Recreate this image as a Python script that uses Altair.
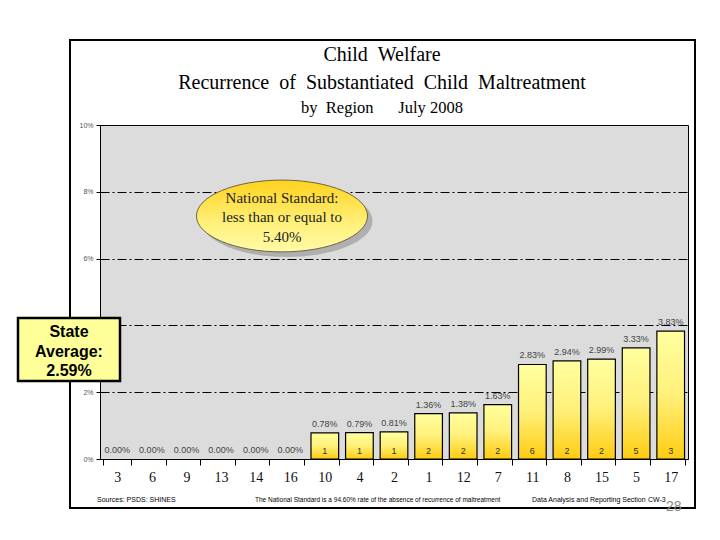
import altair as alt
import pandas as pd

regions = ["3", "6", "9", "13", "14", "16", "10", "4", "2", "1", "12", "7", "11", "8", "15", "5", "17"]
rates = [0.00, 0.00, 0.00, 0.00, 0.00, 0.00, 0.78, 0.79, 0.81, 1.36, 1.38, 1.63, 2.83, 2.94, 2.99, 3.33, 3.83]
counts = [0, 0, 0, 0, 0, 0, 1, 1, 1, 2, 2, 2, 6, 2, 2, 5, 3]
y_ticks = [0, 2, 4, 6, 8, 10]

NB = "\u00a0"
title_lines = ["Child" + NB * 2 + "Welfare",
               ("Recurrence" + NB * 2 + "of" + NB * 2 + "Substantiated" + NB * 2 + "Child"
                + NB * 2 + "Maltreatment"),
               "by" + NB * 2 + "Region" + NB * 6 + "July 2008"]
ellipse_lines = ["National Standard:", "less than or equal to", "5.40%"]
state_lines = ["State", "Average:", "2.59%"]
footer_source = "Sources: PSDS: SHINES"
footer_note = "The National Standard is a 94.60% rate of the absence of recurrence of maltreatment"
footer_section = "Data Analysis and Reporting Section"
footer_code = "CW-3"
page_number = "28"

W, H = 588, 334

df = pd.DataFrame({"region": regions, "rate": rates, "count": counts})
df["label"] = [f"{r:.2f}%" for r in rates]
one = pd.DataFrame({"k": [0]})

bar_grad = alt.Gradient(
    gradient="linear",
    stops=[alt.GradientStop(color="#FFFFA0", offset=0),
           alt.GradientStop(color="#FFF07A", offset=0.5),
           alt.GradientStop(color="#FFCC10", offset=1)],
    x1=0, x2=0, y1=0, y2=1)
ell_grad = alt.Gradient(
    gradient="linear",
    stops=[alt.GradientStop(color="#FFD21E", offset=0),
           alt.GradientStop(color="#FFF07A", offset=0.6),
           alt.GradientStop(color="#FFFAA8", offset=1)],
    x1=0, x2=0, y1=0, y2=1)

x_axis = alt.Axis(title=None, labelAngle=0, labelFont="Liberation Serif",
                  labelFontSize=14, labelColor="#111", tickBand="extent",
                  tickSize=6, tickColor="black", domainColor="black",
                  labelPadding=5, grid=False)
y_axis = alt.Axis(title=None, values=y_ticks,
                  labelExpr="datum.value == 4 ? '' : datum.value + '%'",
                  labelFontSize=7, labelColor="#555", labelFont="Liberation Sans",
                  tickSize=4, tickColor="black", domainColor="black", grid=True,
                  gridColor="black", gridDash=[9, 3, 2, 3], gridWidth=1, gridOpacity=1,
                  labelPadding=3)
x_main = alt.X("region:N", sort=regions,
               scale=alt.Scale(paddingInner=0.2, paddingOuter=0.1), axis=x_axis)
y_main = alt.Y("rate:Q", scale=alt.Scale(domain=[0, 10], nice=False), axis=y_axis)

base = alt.Chart(df)

bars = base.transform_filter("datum.rate > 0").mark_bar(
    fill=bar_grad, stroke="black", strokeWidth=1.2
).encode(x=x_main, y=y_main)

value_labels = base.mark_text(
    baseline="bottom", dy=-4, fontSize=9, color="#444", font="Liberation Sans"
).encode(x=x_main, y=y_main, text="label:N")

count_labels = base.transform_filter("datum.count > 0").mark_text(
    baseline="middle", fontSize=9, color="#333", font="Liberation Sans"
).encode(x=x_main, y=alt.value(H - 8), text="count:Q")


def txt(s, x, y, size, font="Liberation Sans", color="black", align="center",
        weight="normal", baseline="middle"):
    return alt.Chart(one).mark_text(
        fontSize=size, font=font, color=color, align=align, fontWeight=weight,
        baseline=baseline
    ).encode(x=alt.value(x), y=alt.value(y), text=alt.value(s))


frame = alt.Chart(one).mark_rect(
    fillOpacity=0, stroke="black", strokeWidth=2
).encode(x=alt.value(-30), x2=alt.value(595), y=alt.value(-85), y2=alt.value(383))

ell_path = "M-1,0 A1,0.42 0 1,1 1,0 A1,0.42 0 1,1 -1,0 Z"
shadow = alt.Chart(one).mark_point(
    shape=ell_path, filled=True, fill="#8A8A8A", opacity=0.55, size=171 * 171
).encode(x=alt.value(187), y=alt.value(96))
ellipse = alt.Chart(one).mark_point(
    shape=ell_path, filled=True, fill=ell_grad, stroke="#6E6440", strokeWidth=1,
    opacity=1, size=171 * 171
).encode(x=alt.value(182), y=alt.value(91))

state_box = alt.Chart(one).mark_rect(
    fill="#FFFF99", stroke="black", strokeWidth=2.5
).encode(x=alt.value(-82), x2=alt.value(20), y=alt.value(193), y2=alt.value(256))

layers = [bars, value_labels, count_labels, frame, shadow, ellipse, state_box]
layers += [
    txt(title_lines[0], 282, -70, 20, font="Liberation Serif"),
    txt(title_lines[1], 282, -42, 20, font="Liberation Serif"),
    txt(title_lines[2], 282, -17, 16.5, font="Liberation Serif"),
    txt(ellipse_lines[0], 182, 73, 15, font="Liberation Serif", color="#222"),
    txt(ellipse_lines[1], 182, 92, 15, font="Liberation Serif", color="#222"),
    txt(ellipse_lines[2], 182, 112, 15, font="Liberation Serif", color="#222"),
    txt(state_lines[0], -31, 207, 16, weight="bold"),
    txt(state_lines[1], -31, 227, 16, weight="bold"),
    txt(state_lines[2], -31, 246, 16, weight="bold"),
    txt(footer_source, -3, 375, 7, align="left"),
    txt(footer_note, 155, 375, 6.5, align="left"),
    txt(footer_section, 432, 375, 7, align="left"),
    txt(footer_code, 548, 375, 7, align="left"),
    txt(page_number, 566, 382, 14, color="#888", align="left"),
]

chart = alt.layer(*layers).properties(
    width=W, height=H,
    autosize=alt.AutoSizeParams(type="none"),
    padding={"left": 92, "top": 117, "right": 24, "bottom": 73},
    background="white",
).configure_view(fill="#DCDCDC", stroke="black", strokeWidth=1)

chart.save("out.html", embed_options={"renderer": "svg", "actions": False})
